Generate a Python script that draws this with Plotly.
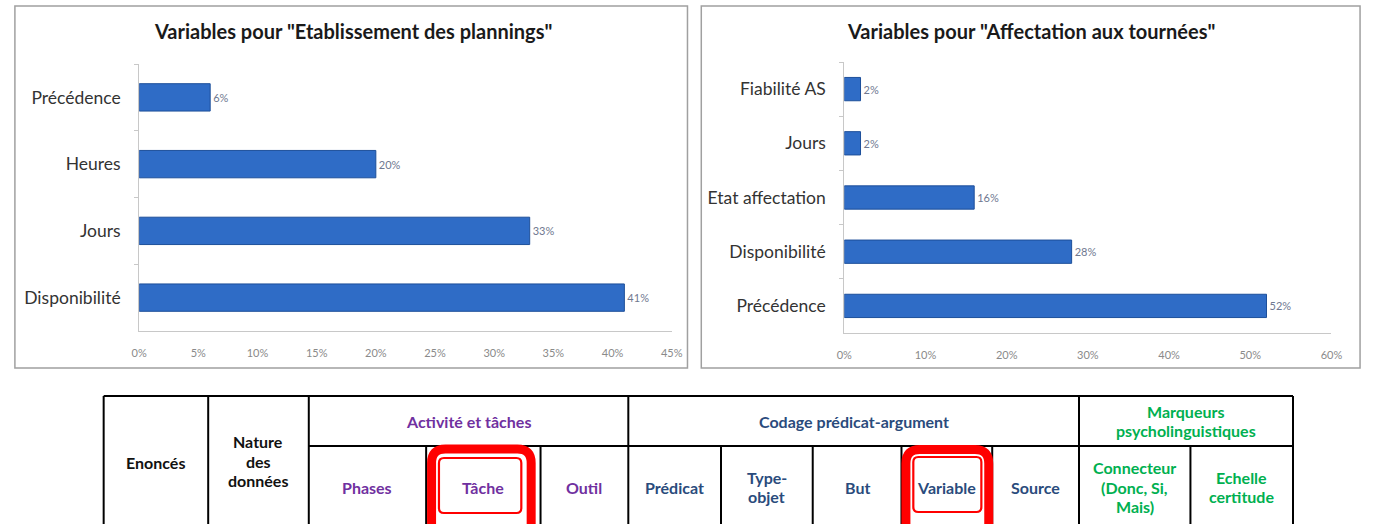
import plotly.graph_objects as go

W, H = 1375, 524
OX, OY = 0, 0

# ---------------- data ----------------
left_title = 'Variables pour "Etablissement des plannings"'
left_categories = ["Précédence", "Heures", "Jours", "Disponibilité"]
left_values = [6, 20, 33, 41]
left_ticks = [0, 5, 10, 15, 20, 25, 30, 35, 40, 45]

right_title = 'Variables pour "Affectation aux tournées"'
right_categories = ["Fiabilité AS", "Jours", "Etat affectation", "Disponibilité", "Précédence"]
right_values = [2, 2, 16, 28, 52]
right_ticks = [0, 10, 20, 30, 40, 50, 60]

# table header texts
group_headers = ["Activité et tâches", "Codage prédicat-argument", "Marqueurs<br>psycholinguistiques"]
fixed_headers = ["Enoncés", "Nature<br>des<br>données"]
sub_headers = ["Phases", "Tâche", "Outil", "Prédicat", "Type-<br>objet", "But", "Variable", "Source",
               "Connecteur<br>(Donc, Si,<br>Mais)", "Echelle<br>certitude"]
highlighted = ["Tâche", "Variable"]

FONT = "Lato, 'Open Sans', sans-serif"
PURPLE = "#7030A0"
NAVY = "#2A4B7C"
GREEN = "#00B050"


def px(x):
    return (x - OX) / W


def py(y):
    return 1 - (y - OY) / H


fig = go.Figure()

bar_style = dict(color="#2F6CC6", line=dict(color="#1D4F9A", width=1))

fig.add_trace(go.Bar(
    x=left_values, y=left_categories, orientation="h",
    marker=bar_style, width=0.41,
    text=[f"{v}%" for v in left_values], textposition="outside",
    textfont=dict(size=11, color="#6f7890", family=FONT),
    cliponaxis=False, xaxis="x", yaxis="y", showlegend=False, hoverinfo="skip"))

fig.add_trace(go.Bar(
    x=right_values, y=right_categories, orientation="h",
    marker=bar_style, width=0.43,
    text=[f"{v}%" for v in right_values], textposition="outside",
    textfont=dict(size=11, color="#6f7890", family=FONT),
    cliponaxis=False, xaxis="x2", yaxis="y2", showlegend=False, hoverinfo="skip"))

xcommon = dict(showgrid=False, zeroline=False, showline=True, linecolor="#c8c8c8", linewidth=1,
               ticks="", tickfont=dict(size=11, color="#8a8a8a", family=FONT),
               ticklabelstandoff=12, fixedrange=True)
ycommon = dict(showgrid=False, zeroline=False, showline=True, linecolor="#c8c8c8", linewidth=1,
               ticks="outside", ticklen=4, tickcolor="#c8c8c8", tickson="boundaries",
               tickfont=dict(size=17.5, color="#333333", family=FONT), ticklabelstandoff=14,
               autorange="reversed", type="category", fixedrange=True)

fig.update_layout(
    width=W, height=H,
    margin=dict(l=0, r=0, t=0, b=0),
    paper_bgcolor="white", plot_bgcolor="white",
    font=dict(family=FONT),
    xaxis=dict(domain=[px(133), px(673)], range=[0, 45], tickvals=left_ticks,
               ticktext=[f"{t}%" for t in left_ticks], anchor="y", **xcommon),
    yaxis=dict(domain=[py(331), py(64)], anchor="x", categoryorder="array",
               categoryarray=left_categories, **ycommon),
    xaxis2=dict(domain=[px(848), px(1342)], range=[0, 60], tickvals=right_ticks,
                ticktext=[f"{t}%" for t in right_ticks], anchor="y2", **xcommon),
    yaxis2=dict(domain=[py(333), py(62)], anchor="x2", categoryorder="array",
                categoryarray=right_categories, **ycommon),
)

shapes = []
annotations = []

# chart frames
for x0, x1 in [(7, 689), (703, 1371)]:
    shapes.append(dict(type="rect", xref="paper", yref="paper",
                       x0=px(x0), x1=px(x1), y0=py(368), y1=py(6),
                       line=dict(color="#a0a0a0", width=1.5), layer="below"))

# chart titles
annotations.append(dict(text=f"<b>{left_title}</b>", x=px(350), y=py(31), xref="paper", yref="paper",
                        showarrow=False, font=dict(size=20, color="#1a1a1a", family=FONT),
                        xanchor="center", yanchor="middle"))
annotations.append(dict(text=f"<b>{right_title}</b>", x=px(1037), y=py(31), xref="paper", yref="paper",
                        showarrow=False, font=dict(size=20, color="#1a1a1a", family=FONT),
                        xanchor="center", yanchor="middle"))

# ---------------- table ----------------
T_TOP, T_MID, T_BOT = 396, 446, 560
col_x = [97, 203, 305, 424, 540, 629, 723, 816, 906, 998, 1086, 1199, 1303]
full_cols = {97, 203, 305, 629, 1086, 1303}


def hline(y, x0, x1, w=2):
    shapes.append(dict(type="line", xref="paper", yref="paper", x0=px(x0), x1=px(x1),
                       y0=py(y), y1=py(y), line=dict(color="black", width=w), layer="above"))


def vline(x, y0, y1, w=2):
    shapes.append(dict(type="line", xref="paper", yref="paper", x0=px(x), x1=px(x),
                       y0=py(y0), y1=py(y1), line=dict(color="black", width=w), layer="above"))


hline(T_TOP, 97, 1303)
hline(T_MID, 305, 1303)
for cx in col_x:
    vline(cx, T_TOP if cx in full_cols else T_MID, T_BOT)

LINE_H = 19.5


def text(t, x, yc, color, size=16):
    lines = t.split("<br>")
    n = len(lines)
    for k, ln in enumerate(lines):
        yy = yc + (k - (n - 1) / 2) * LINE_H
        annotations.append(dict(text=f"<b>{ln}</b>", x=px(x), y=py(yy), xref="paper", yref="paper",
                                showarrow=False, font=dict(size=size, color=color, family=FONT),
                                xanchor="center", yanchor="middle", align="center"))


text(fixed_headers[0], 150, 462, "#111111")
text(fixed_headers[1], 254, 461, "#111111")
text(group_headers[0], (305 + 629) / 2, 421, PURPLE)
text(group_headers[1], (629 + 1086) / 2, 421, NAVY)
text(group_headers[2], (1086 + 1303) / 2, 421, GREEN)

sub_colors = [PURPLE] * 3 + [NAVY] * 5 + [GREEN] * 2
for i, (lab, colr) in enumerate(zip(sub_headers, sub_colors)):
    cx = (col_x[i + 2] + col_x[i + 3]) / 2
    text(lab, cx, 487, colr)


def rrect(x0, y0, x1, y1, r):
    pts = [
        f"M {px(x0 + r)},{py(y0)}",
        f"L {px(x1 - r)},{py(y0)}",
        f"Q {px(x1)},{py(y0)} {px(x1)},{py(y0 + r)}",
        f"L {px(x1)},{py(y1 - r)}",
        f"Q {px(x1)},{py(y1)} {px(x1 - r)},{py(y1)}",
        f"L {px(x0 + r)},{py(y1)}",
        f"Q {px(x0)},{py(y1)} {px(x0)},{py(y1 - r)}",
        f"L {px(x0)},{py(y0 + r)}",
        f"Q {px(x0)},{py(y0)} {px(x0 + r)},{py(y0)}",
        "Z",
    ]
    return " ".join(pts)


# red highlight boxes around highlighted sub-headers
box_geom = {"Tâche": ((429.5, 449, 530.5), (437, 458, 520.5, 513)),
            "Variable": ((910.5, 449.5, 994.5), (918, 457, 987, 512))}
for lab in highlighted:
    (ox0, oy0, ox1), (ix0, iy0, ix1, iy1) = box_geom[lab]
    shapes.append(dict(type="path", xref="paper", yref="paper", path=rrect(ox0, oy0, ox1, 600, 14),
                       line=dict(color="#ff0000", width=9), layer="above"))
    shapes.append(dict(type="path", xref="paper", yref="paper", path=rrect(ix0, iy0, ix1, iy1, 5),
                       line=dict(color="#ff0000", width=2.2), layer="above"))

fig.update_layout(shapes=shapes, annotations=annotations, bargap=0.5)

fig.write_html("out.html", config={"displayModeBar": False},
               post_script="document.body.style.margin='0px';document.body.style.overflow='hidden';")
